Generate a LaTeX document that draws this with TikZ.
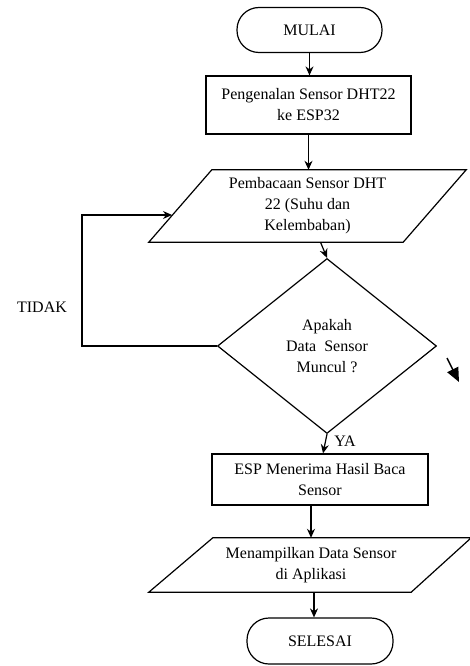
\documentclass[tikz,border=0pt]{standalone}
\usepackage{fontspec}
\setmainfont{Liberation Serif}
\usepackage{tikz}
\usetikzlibrary{shapes,arrows.meta,positioning,calc,shapes.geometric}
\newcommand{\flowfont}{\fontsize{16}{21}\selectfont}
\tikzset{
  termbox/.style={
    rectangle, rounded corners=22pt, draw, line width=1.2pt,
    minimum width=145pt, minimum height=45pt, align=center,
    font=\flowfont
  },
  procbox/.style={
    rectangle, draw, line width=1.2pt, inner sep=0pt,
    align=center, font=\flowfont
  },
  iobox/.style={
    rectangle, inner sep=0pt, align=center, font=\flowfont
  },
  ioframe/.style={draw, line width=1.2pt, line join=miter},
  decbox/.style={
    diamond, draw, line width=1.2pt, inner sep=0pt,
    align=center, font=\flowfont
  },
  flowarr/.style={-{Stealth[length=9pt,width=8pt]}, line width=1.2pt},
  flowlbl/.style={font=\flowfont}
}

\begin{document}
\begin{tikzpicture}[x=1pt, y=-1pt]
  \useasboundingbox (0,0) rectangle (470,666);

  \node[termbox] (mulai) at (309.5,30) {MULAI};
  \node[procbox, minimum width=205pt, minimum height=58pt] (kenal) at (308.5,105)
    {Pengenalan Sensor DHT22\\ke ESP32};
  \node[iobox, minimum width=254pt, minimum height=72pt] (baca) at (307.5,206)
    {Pembacaan Sensor DHT\\22 (Suhu dan\\Kelembaban)};
  \draw[ioframe] ([xshift=31.5pt]baca.north west) -- ([xshift=31.5pt]baca.north east)
    -- ([xshift=-31.5pt]baca.south east) -- ([xshift=-31.5pt]baca.south west) -- cycle;
  \node[decbox, minimum width=219pt, minimum height=175pt] (cek) at (327,346)
    {Apakah\\Data~~Sensor\\Muncul ?};
  \node[procbox, minimum width=216pt, minimum height=51pt] (terima) at (320,479.5)
    {ESP Menerima Hasil Baca\\Sensor};
  \node[iobox, minimum width=260pt, minimum height=54pt] (tampil) at (311,565)
    {Menampilkan Data Sensor\\di Aplikasi};
  \draw[ioframe] ([xshift=32pt]tampil.north west) -- ([xshift=30pt]tampil.north east)
    -- ([xshift=-30pt]tampil.south east) -- ([xshift=-32pt]tampil.south west) -- cycle;
  \node[termbox, minimum width=146pt, minimum height=46pt] (selesai) at (320,641) {SELESAI};

  % Labels
  \node[flowlbl] (tidak) at (42,307) {TIDAK};
  \node[flowlbl] (ya) at (345,441) {YA};

  \coordinate (balik) at (82,215);
  \coordinate (masuk) at (172,215);
  \coordinate (panah1) at (447,358);
  \coordinate (panah2) at (459,382);

  % Arrows
  \draw[flowarr] (mulai.south) -- (mulai.south |- kenal.north);
  \draw[flowarr] (kenal.south) -- (kenal.south |- baca.north);
  \draw[flowarr] ([xshift=13pt]baca.south) -- (cek.north);
  \draw[flowarr] (cek.west) -| (balik) -- (masuk);
  \draw[flowarr] (cek.south) -- ([xshift=3pt]terima.north);
  \draw[flowarr] (terima.south -| tampil.north) -- (tampil.north);
  \draw[flowarr] ([xshift=3pt]tampil.south) -- ([xshift=3pt]tampil.south |- selesai.north);
  \draw[-{Triangle[length=14pt,width=12pt]}, line width=1.5pt] (panah1) -- (panah2);
\end{tikzpicture}
\end{document}
